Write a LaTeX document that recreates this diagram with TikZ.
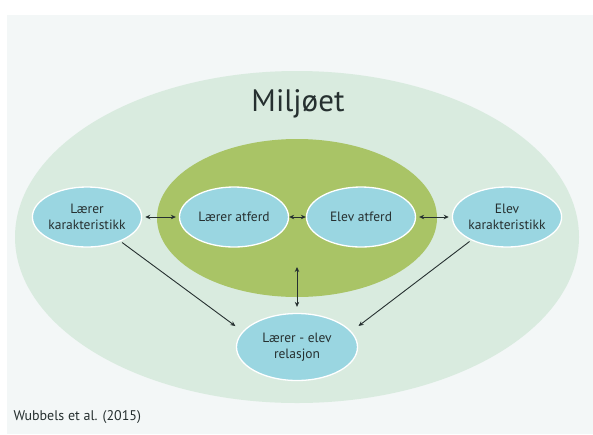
\documentclass[tikz,border=0pt]{standalone}
\usepackage{fontspec}
\setmainfont{PT Sans}
\usetikzlibrary{shapes.geometric,arrows.meta}
\definecolor{panel}{HTML}{F3F7F7}
\definecolor{outer}{HTML}{D9EBDF}
\definecolor{inner}{HTML}{A9C466}
\definecolor{nodefill}{HTML}{9AD6E1}
\definecolor{ink}{HTML}{263030}
\tikzset{
  bubble/.style={ellipse, fill=nodefill, draw=white, line width=1.3pt, inner sep=0pt,
    align=center, text=ink, font=\fontsize{13.5}{16}\selectfont},
  link/.style={draw=ink, line width=0.9pt, {Stealth[length=5pt,width=4.5pt]}-{Stealth[length=5pt,width=4.5pt]}},
  onelink/.style={draw=ink, line width=0.9pt, -{Stealth[length=5pt,width=4.5pt]}}
}
\begin{document}
\begin{tikzpicture}[x=1pt,y=-1pt]
\useasboundingbox (0,0) rectangle (593,434);
\fill[white] (0,0) rectangle (593,434);
\fill[panel] (7,15) rectangle (593,434);
\fill[outer] (297,237) ellipse [x radius=282, y radius=166];
\fill[inner] (297,218) ellipse [x radius=140, y radius=79];
\node[text=ink, font=\fontsize{31}{33}\selectfont] (title) at (298,104) {Miljøet};
\node[bubble, minimum width=108pt, minimum height=60pt] (lk) at (87,217) {Lærer\\karakteristikk};
\node[bubble, minimum width=109pt, minimum height=60pt] (la) at (234,217) {Lærer atferd};
\node[bubble, minimum width=109pt, minimum height=60pt] (ea) at (361,217) {Elev atferd};
\node[bubble, minimum width=108pt, minimum height=60pt] (ek) at (507,217) {Elev\\karakteristikk};
\node[bubble, minimum width=121pt, minimum height=67pt] (rel) at (297,347) {Lærer - elev\\relasjon};
\coordinate (top) at (297,267);
\draw[link, shorten <=3pt, shorten >=3pt] (lk) -- (la);
\draw[link] (la.east) -- (ea.west);
\draw[link, shorten <=3pt, shorten >=3pt] (ea) -- (ek);
\draw[link, shorten >=6pt] (top) -- (rel.north);
\draw[onelink, shorten <=2pt, shorten >=9pt] (lk.-36) -- (rel.164);
\draw[onelink, shorten <=2pt, shorten >=9pt] (ek.213) -- (rel.16);
\node[anchor=west, text=ink, font=\fontsize{14}{15}\selectfont] (cite) at (10,417) {Wubbels et al. (2015)};
\end{tikzpicture}
\end{document}
